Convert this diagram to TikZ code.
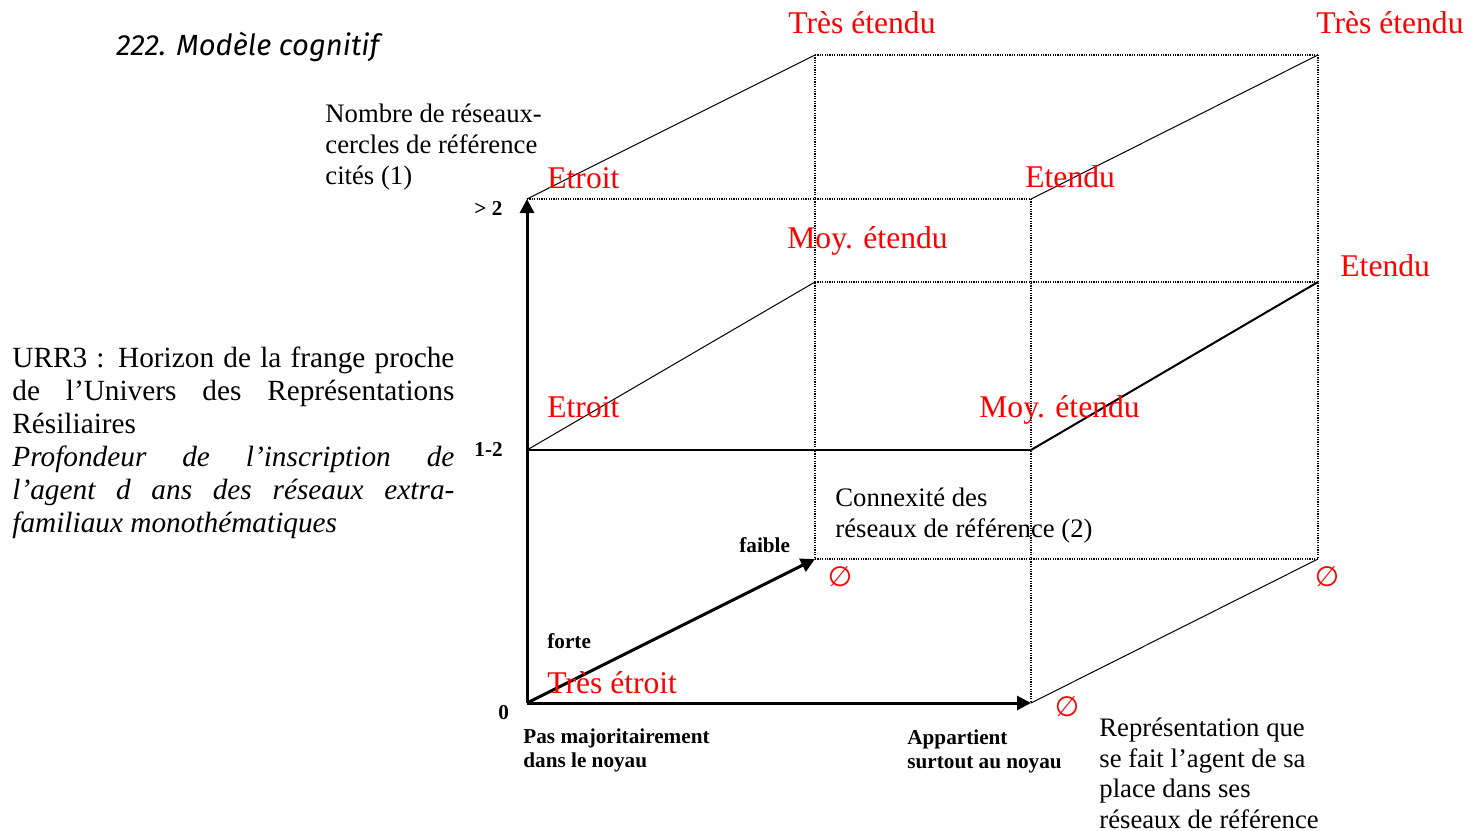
\documentclass[tikz,border=0pt]{standalone}
\usepackage{fontspec}
\setmainfont{Liberation Serif}
\newfontfamily\titlefont{Fira Sans}
\newfontfamily\symfont{DejaVu Sans}
\usetikzlibrary{arrows.meta}
\begin{document}
\begin{tikzpicture}[x=0.5pt,y=-0.5pt,
  axis/.style={line width=1.5pt,-{Triangle[length=7pt,width=7pt]}},
  thinline/.style={line width=0.5pt},
  medline/.style={line width=1pt},
  dotline/.style={line width=0.6pt, dash pattern=on 0.6pt off 0.6pt},
  redlab/.style={text=red, font=\fontsize{15.8}{18}\selectfont, inner sep=0, anchor=base west},
  body/.style={font=\fontsize{13.35}{15.5}\selectfont, inner sep=0, anchor=base west, align=left},
  boldlab/.style={font=\fontsize{10.6}{12}\selectfont\bfseries, inner sep=0, anchor=base west, align=left},
  empt/.style={text=red, font=\symfont\fontsize{14}{15}\selectfont, inner sep=0},
]
\useasboundingbox (0,0) rectangle (1480,831);
% corners
\coordinate (f00) at (527,703);
\coordinate (f01) at (527,450);
\coordinate (f02) at (527,199);
\coordinate (f10) at (1031,703);
\coordinate (f11) at (1031,450);
\coordinate (f12) at (1031,199);
\coordinate (b00) at (815,559);
\coordinate (b01) at (815,282);
\coordinate (b02) at (815,55);
\coordinate (b10) at (1318,559);
\coordinate (b11) at (1318,282);
\coordinate (b12) at (1318,55);
% dotted edges
\draw[dotline] (b02) -- (b12);
\draw[dotline] (b01) -- (b11);
\draw[dotline] (b00) -- (b10);
\draw[dotline] (b02) -- (b00);
\draw[dotline] (b12) -- (b10);
\draw[dotline] (f02) -- (f12);
\draw[dotline] (f12) -- (f10);
% solid edges
\draw[medline] (f01) -- (f11);
\draw[thinline] (f02) -- (b02);
\draw[thinline] (f01) -- (b01);
\draw[thinline] (f12) -- (b12);
\draw[medline] (f11) -- (b11);
\draw[thinline] (f10) -- (b10);
% axes
\draw[axis] (f00) -- (f02);
\draw[axis] (f00) -- (f10);
\draw[axis] (f00) -- (b00);
% texts (multi-line nodes: base = last line's baseline)
\node[inner sep=0, anchor=base west, font=\titlefont\itshape\fontsize{14.6}{16}\selectfont] (title) at (116,55) {222. Modèle cognitif};
\node[body] (nombre) at (325,184) {Nombre de réseaux-\\cercles de référence\\cités (1)};
\node[inner sep=0, anchor=base west, align=left, font=\fontsize{14.65}{16.5}\selectfont] (urr) at (12,532)
 {\makebox[221pt][s]{URR3 : Horizon de la frange proche}\\
  \makebox[221pt][s]{de l’Univers des Représentations}\\
  Résiliaires\\
  \itshape\makebox[221pt][s]{Profondeur de l’inscription de}\\
  \itshape\makebox[221pt][s]{l’agent d ans des réseaux extra-}\\
  \itshape familiaux monothématiques};
\node[boldlab] (gt2) at (474,215) {> 2};
\node[boldlab] (l12) at (474,456) {1-2};
\node[boldlab] (l0) at (498,719) {0};
\node[boldlab] (faible) at (739,552) {faible};
\node[boldlab] (forte) at (547,648) {forte};
\node[boldlab] (pas) at (523,767) {Pas majoritairement\\dans le noyau};
\node[boldlab] (app) at (907,768) {Appartient\\surtout au noyau};
\node[body] (conn) at (835,537) {Connexité des\\réseaux de référence (2)};
\node[body, font=\fontsize{13.35}{15.25}\selectfont] (repr) at (1099,828) {Représentation que\\se fait l’agent de sa\\place dans ses\\réseaux de référence};
% red labels
\node[redlab] (te1) at (788,33) {Très étendu};
\node[redlab] (te2) at (1316,33) {Très étendu};
\node[redlab] (et1) at (547,188) {Etroit};
\node[redlab] (etd1) at (1025,187) {Etendu};
\node[redlab] (moy1) at (787,248) {Moy. étendu};
\node[redlab] (etd2) at (1340,276) {Etendu};
\node[redlab] (et2) at (547,417) {Etroit};
\node[redlab] (moy2) at (979,417) {Moy. étendu};
\node[redlab] (tet) at (547,693) {Très étroit};
\node[empt] (e1) at (840,577) {∅};
\node[empt] (e2) at (1327,577) {∅};
\node[empt] (e3) at (1067,707) {∅};
\end{tikzpicture}
\end{document}
